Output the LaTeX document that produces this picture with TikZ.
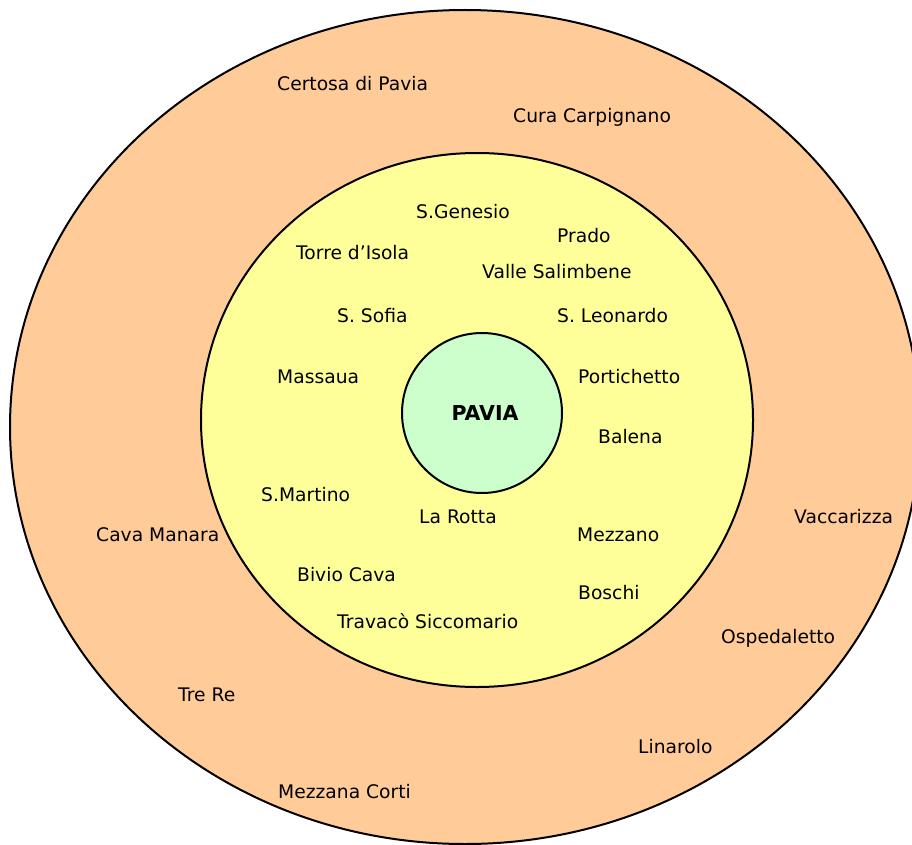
\documentclass[tikz,border=0pt]{standalone}
\usepackage{fontspec}
\setmainfont{DejaVu Sans}
\definecolor{outerring}{HTML}{FFCC99}
\definecolor{innerring}{HTML}{FFFF99}
\definecolor{core}{HTML}{CCFFCC}
\begin{document}
\begin{tikzpicture}[x=1pt,y=-1pt,
  ring/.style={draw=black,line width=2pt},
  place/.style={anchor=base west,inner sep=0pt,font=\fontsize{18.7}{22}\selectfont},
  city/.style={circle,draw=black,line width=2pt,fill=core,minimum size=160pt,inner sep=0pt,font=\fontsize{20.5}{24}\selectfont\bfseries}]
\useasboundingbox (0,0) rectangle (912,845);
\clip (0,0) rectangle (912,845);
\fill[white] (0,0) rectangle (912,845);
% rings
\filldraw[ring,fill=outerring] (465,427) ellipse [x radius=455, y radius=417];
\filldraw[ring,fill=innerring] (477,420) ellipse [x radius=276, y radius=267];
\node[city] (pavia) at (482,413) {\raisebox{-1pt}{\hspace*{6pt}PAVIA}};
% outer ring places
\node[place] (certosa) at (277,91) {Certosa di Pavia};
\node[place] (cura) at (513,123) {Cura Carpignano};
\node[place] (cavamanara) at (96,541) {Cava Manara};
\node[place] (vaccarizza) at (794,523) {Vaccarizza};
\node[place] (ospedaletto) at (721,643) {Ospedaletto};
\node[place] (trere) at (178,701) {Tre Re};
\node[place] (linarolo) at (638,753) {Linarolo};
\node[place] (mezzanacorti) at (278,798) {Mezzana Corti};
% inner ring places
\node[place] (genesio) at (416,218) {S.Genesio};
\node[place] (prado) at (557,242) {Prado};
\node[place] (torre) at (296,259) {Torre d’Isola};
\node[place] (valle) at (482,278) {Valle Salimbene};
\node[place] (sofia) at (337,322) {S. Sofia};
\node[place] (leonardo) at (557,322) {S. Leonardo};
\node[place] (massaua) at (277,383) {Massaua};
\node[place] (portichetto) at (578,383) {Portichetto};
\node[place] (balena) at (598,443) {Balena};
\node[place] (martino) at (261,501) {S.Martino};
\node[place] (rotta) at (419,523) {La Rotta};
\node[place] (mezzano) at (577,541) {Mezzano};
\node[place] (bivio) at (297,581) {Bivio Cava};
\node[place] (boschi) at (578,599) {Boschi};
\node[place] (travaco) at (337,628) {Travacò Siccomario};
\end{tikzpicture}
\end{document}
